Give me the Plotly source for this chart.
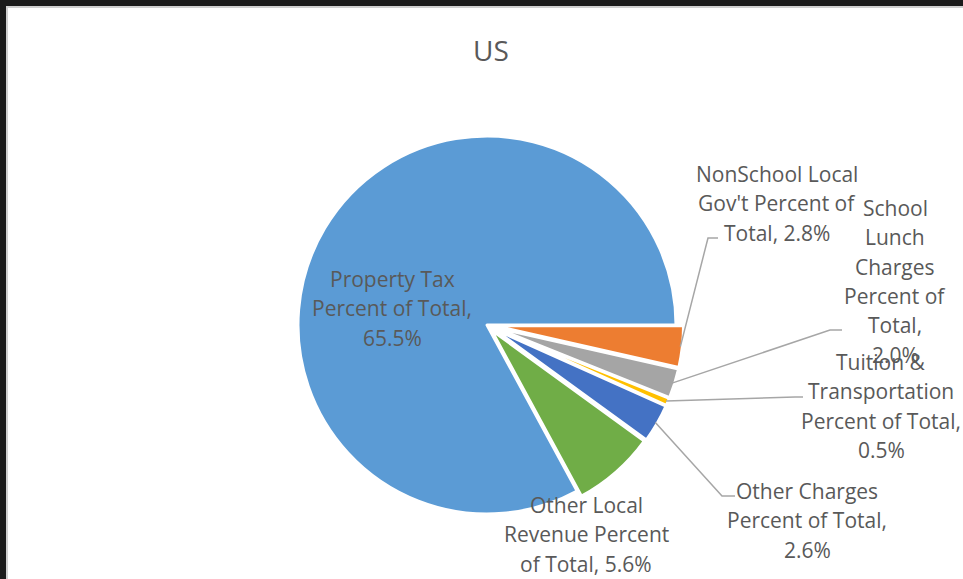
import math
import plotly.graph_objects as go

# ---------------- data ----------------
categories = [
    "NonSchool Local Gov't",
    "School Lunch Charges",
    "Tuition & Transportation",
    "Other Charges",
    "Other Local Revenue",
    "Property Tax",
]
values = [2.8, 2.0, 0.5, 2.6, 5.6, 65.5]  # percent of total
# Excel-style wrapped label lines ({v} = value)
label_wraps = [
    ["NonSchool Local", "Gov't Percent of", "Total, {v}"],
    ["School", "Lunch", "Charges", "Percent of", "Total,", "{v}"],
    ["Tuition &", "Transportation", "Percent of Total,", "{v}"],
    ["Other Charges", "Percent of Total,", "{v}"],
    ["Other Local", "Revenue Percent", "of Total, {v}"],
    ["Property Tax", "Percent of Total,", "{v}"],
]
title_text = "US"

# ---------------- style ----------------
colors = ["#ED7D31", "#A5A5A5", "#FFC000", "#4472C4", "#70AD47", "#5B9BD5"]
pulls = [0.04, 0.04, 0.04, 0.04, 0.035, 0.0]
W, H = 963, 579
CX, CY, R = 487, 325, 189          # pie centre / radius in px
FONT = "Open Sans"
TXT = "#595959"
LINE_H = 29.3
# label block placement (centre x, first line y) in px
label_pos = [(777, 174), (895, 208), (881, 362), (807, 491), (586, 505), (392, 279)]
# leader line bend/end points in px (None = no leader)
leaders = [
    [(708, 238), (718, 238)],
    [(830, 330), (842, 330)],
    [(795, 397), (803, 397)],
    [(722, 496), (735, 496)],
    None,
    None,
]


def px(x):
    return x / W


def py(y):
    return 1 - y / H


maxpull = max(pulls)
half = R * (1 + maxpull)

fig = go.Figure(
    go.Pie(
        labels=categories,
        values=values,
        sort=False,
        direction="clockwise",
        rotation=90,
        pull=pulls,
        marker=dict(colors=colors, line=dict(color="white", width=3)),
        textinfo="none",
        hoverinfo="label+value",
        showlegend=False,
        domain=dict(x=[px(CX - half), px(CX + half)], y=[py(CY + half), py(CY - half)]),
    )
)

annotations = []
shapes = []

# labels
for i, (lines, (lx, ly)) in enumerate(zip(label_wraps, label_pos)):
    vtxt = f"{values[i]:.1f}%"
    for k, ln in enumerate(lines):
        annotations.append(
            dict(
                x=px(lx), y=py(ly + k * LINE_H), xref="paper", yref="paper",
                text=ln.format(v=vtxt), showarrow=False,
                xanchor="center", yanchor="middle",
                font=dict(family=FONT, size=21, color=TXT),
            )
        )

# leader lines, starting from each slice's outer mid point (computed from data)
total = sum(values)
cum = 0.0
for i, v in enumerate(values):
    a0 = 90 + cum / total * 360
    a1 = a0 + v / total * 360
    cum += v
    mid = math.radians((a0 + a1) / 2)
    if leaders[i] is None:
        continue
    rr = R * (1 + pulls[i]) - 2
    sx = CX + rr * math.sin(mid)
    sy = CY - rr * math.cos(mid)
    pts = [(sx, sy)] + leaders[i]
    path = "M " + " L ".join(f"{px(x):.5f},{py(y):.5f}" for x, y in pts)
    shapes.append(dict(type="path", xref="paper", yref="paper", path=path,
                       line=dict(color="#A6A6A6", width=1.5)))

# title
annotations.append(
    dict(x=px(491), y=py(50), xref="paper", yref="paper", text=title_text,
         showarrow=False, xanchor="center", yanchor="middle",
         font=dict(family=FONT, size=28, color=TXT))
)

# dark frame bands (top and left) + light edge line
shapes += [
    dict(type="rect", xref="paper", yref="paper", x0=0, x1=1, y0=py(6), y1=1,
         fillcolor="#1b1b1b", line=dict(width=0)),
    dict(type="rect", xref="paper", yref="paper", x0=0, x1=px(6), y0=0, y1=1,
         fillcolor="#1b1b1b", line=dict(width=0)),
    dict(type="path", xref="paper", yref="paper",
         path=f"M {px(7):.5f},0 L {px(7):.5f},{py(7):.5f} L 1,{py(7):.5f}",
         line=dict(color="#D0D0D0", width=2)),
]

fig.update_layout(
    width=W, height=H,
    margin=dict(l=0, r=0, t=0, b=0),
    paper_bgcolor="white",
    plot_bgcolor="white",
    annotations=annotations,
    shapes=shapes,
    font=dict(family=FONT, color=TXT),
)

fig.write_html(
    "out.html",
    config={"displayModeBar": False},
    post_script="document.body.style.margin='0';document.body.style.overflow='hidden';",
)
